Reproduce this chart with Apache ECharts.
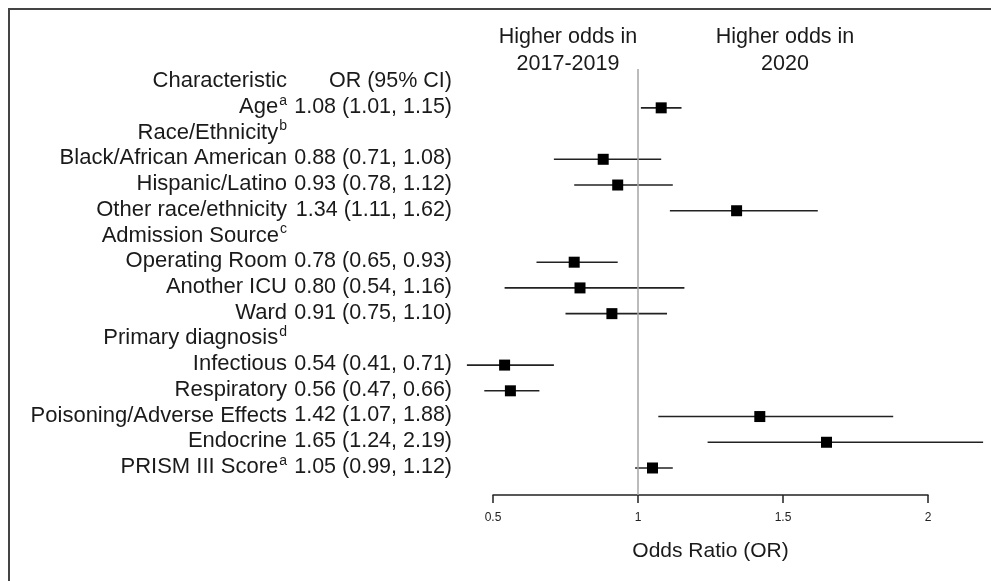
<!DOCTYPE html>
<html>
<head>
<meta charset="utf-8">
<script src="https://cdn.jsdelivr.net/npm/echarts@6/dist/echarts.min.js"></script>
<style>
  html, body { margin: 0; padding: 0; background: #fff; }
  #forest { width: 991px; height: 581px; }
</style>
</head>
<body>
<div id="forest"></div>
<script>
// rows, top to bottom (row 0 is the column header)
var rowLabels = ['Characteristic', 'Age', 'Race/Ethnicity', 'Black/African American', 'Hispanic/Latino',
    'Other race/ethnicity', 'Admission Source', 'Operating Room', 'Another ICU', 'Ward',
    'Primary diagnosis', 'Infectious', 'Respiratory', 'Poisoning/Adverse Effects', 'Endocrine',
    'PRISM III Score'];
var rowSup = ['', 'a', 'b', '', '', '', 'c', '', '', '', 'd', '', '', '', '', 'a'];
var orEst = [null, 1.08, null, 0.88, 0.93, 1.34, null, 0.78, 0.80, 0.91, null, 0.54, 0.56, 1.42, 1.65, 1.05];
var ciLow = [null, 1.01, null, 0.71, 0.78, 1.11, null, 0.65, 0.54, 0.75, null, 0.41, 0.47, 1.07, 1.24, 0.99];
var ciHigh = [null, 1.15, null, 1.08, 1.12, 1.62, null, 0.93, 1.16, 1.10, null, 0.71, 0.66, 1.88, 2.19, 1.12];
var xTicks = [0.5, 1, 1.5, 2];

var FONT = '"Liberation Sans", Arial, sans-serif';
var INK = '#1a1a1a';

var chart = echarts.init(document.getElementById('forest'));

var ciData = [];
var textData = [];
for (var i = 0; i < rowLabels.length; i++) {
    textData.push([1, i]);
    if (orEst[i] !== null) {
        ciData.push([orEst[i], i, ciLow[i], ciHigh[i]]);
    }
}

function orLabel(i) {
    if (i === 0) return 'OR (95% CI)';
    if (orEst[i] === null) return '';
    return orEst[i].toFixed(2) + ' (' + ciLow[i].toFixed(2) + ', ' + ciHigh[i].toFixed(2) + ')';
}

function renderCI(params, api) {
    var row = api.value(1);
    var p = api.coord([api.value(0), row]);
    var lo = api.coord([api.value(2), row]);
    var hi = api.coord([api.value(3), row]);
    var s = 11;
    return {
        type: 'group',
        children: [{
            type: 'line',
            shape: {x1: lo[0], y1: lo[1], x2: hi[0], y2: hi[1]},
            style: {stroke: '#222', lineWidth: 1.6}
        }, {
            type: 'rect',
            shape: {x: p[0] - s / 2, y: p[1] - s / 2, width: s, height: s},
            style: {fill: '#000'}
        }]
    };
}

function renderText(params, api) {
    var i = api.value(1);
    var y = api.coord([1, i])[1];
    var lab = '{n|' + rowLabels[i] + '}' + (rowSup[i] ? '{s|' + rowSup[i] + '}' : '');
    return {
        type: 'group',
        children: [{
            type: 'text',
            style: {
                x: 287, y: y - 1, text: lab, align: 'right', verticalAlign: 'middle',
                rich: {
                    n: {fontSize: 22, fontFamily: FONT, fill: INK, lineHeight: 26, verticalAlign: 'middle'},
                    s: {fontSize: 14, fontFamily: FONT, fill: INK, lineHeight: 26, verticalAlign: 'top', padding: [0, 0, 0, 1]}
                }
            }
        }, {
            type: 'text',
            style: {
                x: 452, y: y - 1, text: orLabel(i), align: 'right', verticalAlign: 'middle',
                fontSize: 21.5, fontFamily: FONT, fill: INK
            }
        }]
    };
}

var option = {
    animation: false,
    backgroundColor: '#fff',
    grid: {left: 493, right: 63, top: 69, bottom: 86},
    xAxis: {
        type: 'value',
        min: 0.5,
        max: 2,
        interval: 0.5,
        splitLine: {show: false},
        axisLine: {onZero: false, lineStyle: {color: '#222', width: 1.5}},
        axisTick: {length: 8, lineStyle: {color: '#222', width: 1.5}},
        axisLabel: {
            fontSize: 12, color: '#222', fontFamily: FONT, margin: 17,
            formatter: function (v) { return xTicks.indexOf(v) >= 0 ? String(v) : ''; }
        },
        name: 'Odds Ratio (OR)',
        nameLocation: 'middle',
        nameGap: 46,
        nameTextStyle: {fontSize: 21, color: INK, fontFamily: FONT}
    },
    yAxis: {
        type: 'value',
        inverse: true,
        min: -0.51,
        max: 16.05,
        show: false
    },
    graphic: [{
        type: 'polyline',
        shape: {points: [[9, 581], [9, 9], [991, 9]]},
        style: {stroke: '#444', lineWidth: 2, fill: null}
    }, {
        type: 'text',
        style: {
            x: 568, y: 24, text: 'Higher odds in\n2017-2019', align: 'center',
            fontSize: 21.5, lineHeight: 27, fontFamily: FONT, fill: INK
        }
    }, {
        type: 'text',
        style: {
            x: 785, y: 24, text: 'Higher odds in\n2020', align: 'center',
            fontSize: 21.5, lineHeight: 27, fontFamily: FONT, fill: INK
        }
    }],
    series: [{
        name: 'OR',
        type: 'custom',
        clip: false,
        renderItem: renderCI,
        encode: {x: 0, y: 1},
        data: ciData,
        markLine: {
            silent: true,
            symbol: 'none',
            label: {show: false},
            lineStyle: {color: '#a6a6a6', width: 1.5, type: 'solid'},
            data: [{xAxis: 1}]
        },
        z: 3
    }, {
        name: 'labels',
        type: 'custom',
        clip: false,
        renderItem: renderText,
        encode: {x: 0, y: 1},
        data: textData
    }]
};

chart.setOption(option);
</script>
</body>
</html>
